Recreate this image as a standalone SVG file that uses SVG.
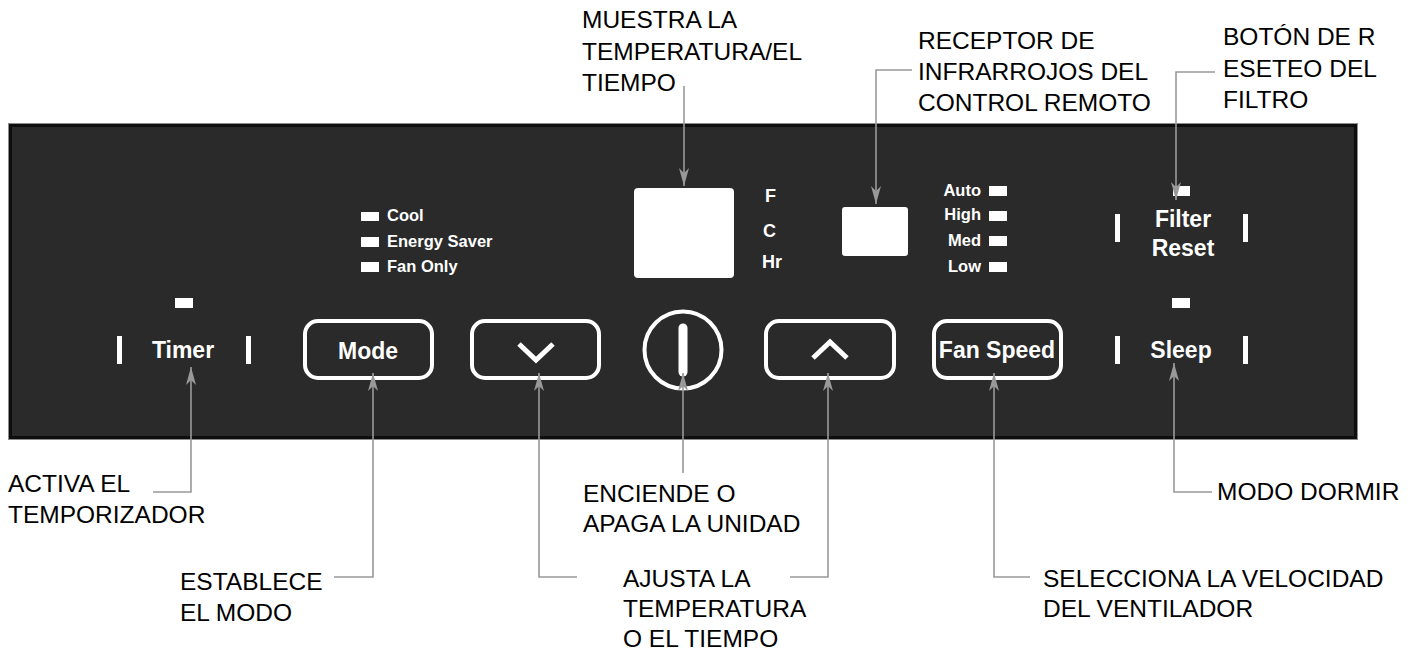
<svg xmlns="http://www.w3.org/2000/svg" width="1423" height="653" viewBox="0 0 1423 653">
<defs>
<style>
.lbl{font-family:"Liberation Sans",Arial,sans-serif;font-size:24.5px;fill:#000}
.pt{font-family:"Liberation Sans",Arial,sans-serif;font-weight:bold;fill:#fff}
.big{font-size:23px;text-anchor:middle}
.sm{font-size:16.5px}
.fc{font-size:18px}
.end{text-anchor:end}
.btn{fill:none;stroke:#fff;stroke-width:4}
.led{fill:#fff}
.chev{fill:none;stroke:#fff;stroke-width:5}
.conn{fill:none;stroke:#999;stroke-width:1.6;marker-end:url(#ah)}
</style>
<marker id="ah" viewBox="0 0 18 10" refX="18" refY="5" markerWidth="18" markerHeight="10" markerUnits="userSpaceOnUse" orient="auto"><path d="M0,0 L18,5 L0,10 L5,5 z" fill="#999"/></marker>
</defs>
<rect width="1423" height="653" fill="#fff"/>
<g id="panel">
<rect x="8.5" y="123.5" width="1349" height="316" fill="#2a2a2a" stroke="#8c8c8c" stroke-width="1"/>
<rect x="10.5" y="125.5" width="1345" height="312" fill="none" stroke="#0e0e0e" stroke-width="3"/>
</g>
<g id="timer">
<rect class="led" x="175" y="298" width="18" height="10"/>
<rect class="led" x="117" y="336" width="5" height="28"/>
<rect class="led" x="246" y="336" width="5" height="28"/>
<text class="pt big" x="183" y="358">Timer</text>
</g>
<g id="mode">
<rect class="btn" x="305" y="321" width="127" height="57" rx="13"/>
<text class="pt big" x="368" y="359">Mode</text>
</g>
<g id="mode-indicators">
<rect class="led" x="361" y="212" width="18" height="9"/>
<rect class="led" x="361" y="237" width="18" height="10"/>
<rect class="led" x="361" y="262" width="18" height="10"/>
<text class="pt sm" x="387" y="221">Cool</text>
<text class="pt sm" x="387" y="247">Energy Saver</text>
<text class="pt sm" x="387" y="272">Fan Only</text>
</g>
<g id="down">
<rect class="btn" x="472" y="321" width="127" height="57" rx="13"/>
<polyline class="chev" points="519,344 536,360 553,344"/>
</g>
<g id="power">
<circle cx="683" cy="350" r="38.5" fill="none" stroke="#fff" stroke-width="4"/>
<line x1="683" y1="328" x2="683" y2="372" stroke="#fff" stroke-width="9" stroke-linecap="round"/>
</g>
<g id="display">
<rect class="led" x="634" y="188" width="100" height="90" rx="4"/>
<text class="pt fc" x="765" y="202">F</text>
<text class="pt fc" x="763" y="237">C</text>
<text class="pt fc" x="762" y="268">Hr</text>
</g>
<g id="up">
<rect class="btn" x="766" y="321" width="128" height="57" rx="13"/>
<polyline class="chev" points="813,358 830,342 847,358"/>
</g>
<g id="ir-receiver">
<rect class="led" x="842" y="207" width="66" height="49" rx="3"/>
</g>
<g id="speed-indicators">
<text class="pt sm end" x="981" y="196">Auto</text>
<text class="pt sm end" x="981" y="220">High</text>
<text class="pt sm end" x="981" y="246">Med</text>
<text class="pt sm end" x="981" y="272">Low</text>
<rect class="led" x="989" y="186" width="18" height="10"/>
<rect class="led" x="989" y="211" width="18" height="10"/>
<rect class="led" x="989" y="236" width="18" height="10"/>
<rect class="led" x="989" y="262" width="18" height="10"/>
</g>
<g id="fan-speed">
<rect class="btn" x="934" y="321" width="127" height="57" rx="13"/>
<text class="pt big" x="997" y="358">Fan Speed</text>
</g>
<g id="filter-reset">
<rect class="led" x="1173" y="186" width="17" height="10"/>
<rect class="led" x="1115" y="214" width="5" height="28"/>
<rect class="led" x="1243" y="214" width="5" height="28"/>
<text class="pt big" x="1183" y="227">Filter</text>
<text class="pt big" x="1183" y="256">Reset</text>
</g>
<g id="sleep">
<rect class="led" x="1172" y="298" width="18" height="10"/>
<rect class="led" x="1115" y="336" width="5" height="28"/>
<rect class="led" x="1243" y="336" width="5" height="28"/>
<text class="pt big" x="1181" y="358">Sleep</text>
</g>
<g id="connectors">
<path class="conn" d="M684,86 V186"/>
<path class="conn" d="M912,70 H876 V204"/>
<path class="conn" d="M1215,72 H1176 V200"/>
<path class="conn" d="M153,492 H191 V367"/>
<path class="conn" d="M334,577 H373 V373"/>
<path class="conn" d="M577,577 H539 V373"/>
<path class="conn" d="M683,473 V373"/>
<path class="conn" d="M790,577 H828 V373"/>
<path class="conn" d="M1030,577 H994 V373"/>
<path class="conn" d="M1212,492 H1174 V363"/>
</g>
<g id="label-display">
<text class="lbl" x="582" y="28">MUESTRA LA</text>
<text class="lbl" x="582" y="60">TEMPERATURA/EL</text>
<text class="lbl" x="582" y="91">TIEMPO</text>
</g>
<g id="label-ir">
<text class="lbl" x="918" y="49">RECEPTOR DE</text>
<text class="lbl" x="918" y="80">INFRARROJOS DEL</text>
<text class="lbl" x="918" y="111">CONTROL REMOTO</text>
</g>
<g id="label-filter">
<text class="lbl" x="1223" y="45">BOTÓN DE R</text>
<text class="lbl" x="1223" y="77">ESETEO DEL</text>
<text class="lbl" x="1223" y="108">FILTRO</text>
</g>
<g id="label-timer">
<text class="lbl" x="8" y="492">ACTIVA EL</text>
<text class="lbl" x="8" y="523">TEMPORIZADOR</text>
</g>
<g id="label-mode">
<text class="lbl" x="180" y="590">ESTABLECE</text>
<text class="lbl" x="180" y="621">EL MODO</text>
</g>
<g id="label-power">
<text class="lbl" x="583" y="502">ENCIENDE O</text>
<text class="lbl" x="583" y="532">APAGA LA UNIDAD</text>
</g>
<g id="label-adjust">
<text class="lbl" x="623" y="587">AJUSTA LA</text>
<text class="lbl" x="623" y="617">TEMPERATURA</text>
<text class="lbl" x="623" y="647">O EL TIEMPO</text>
</g>
<g id="label-fan">
<text class="lbl" x="1043" y="587">SELECCIONA LA VELOCIDAD</text>
<text class="lbl" x="1043" y="617">DEL VENTILADOR</text>
</g>
<g id="label-sleep">
<text class="lbl" x="1217" y="500">MODO DORMIR</text>
</g>
</svg>
